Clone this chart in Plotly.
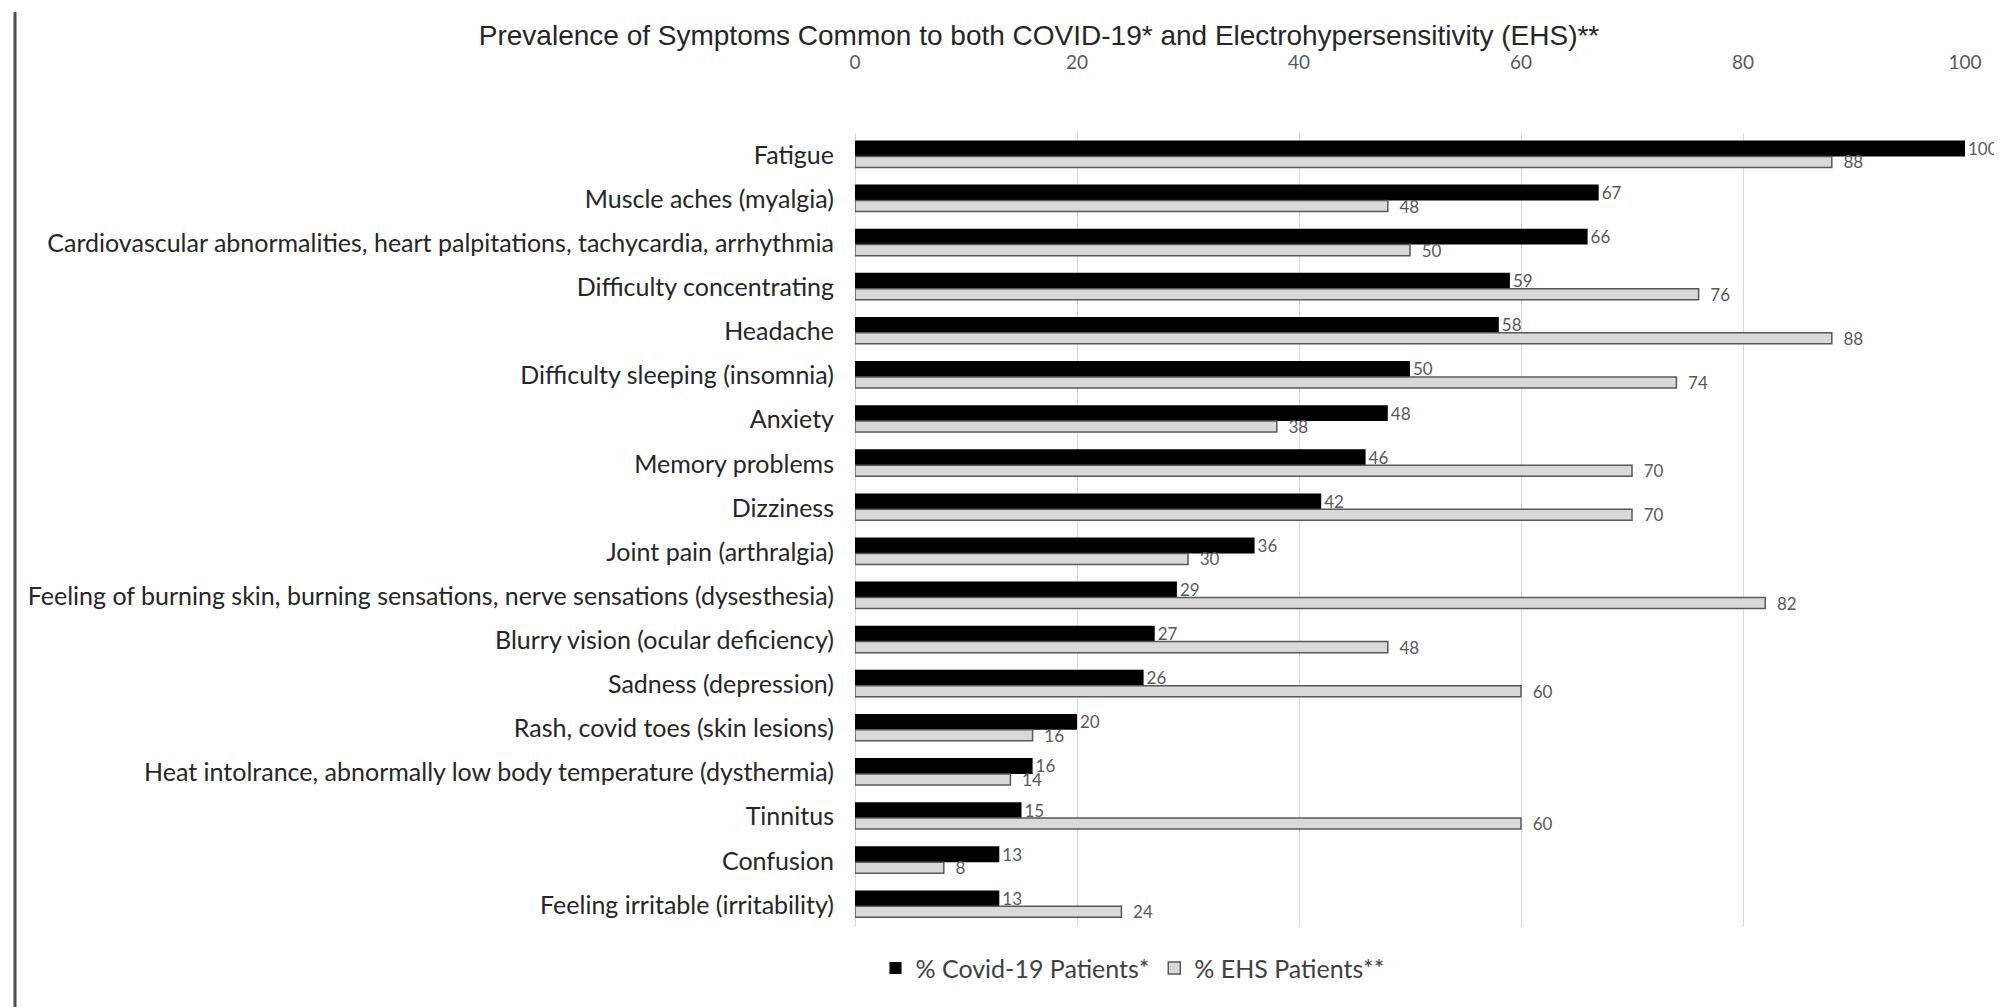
import plotly.graph_objects as go

categories = [
    "Fatigue",
    "Muscle aches (myalgia)",
    "Cardiovascular abnormalities, heart palpitations, tachycardia, arrhythmia",
    "Difficulty concentrating",
    "Headache",
    "Difficulty sleeping (insomnia)",
    "Anxiety",
    "Memory problems",
    "Dizziness",
    "Joint pain (arthralgia)",
    "Feeling of burning skin, burning sensations, nerve sensations (dysesthesia)",
    "Blurry vision (ocular deficiency)",
    "Sadness (depression)",
    "Rash, covid toes (skin lesions)",
    "Heat intolrance, abnormally low body temperature (dysthermia)",
    "Tinnitus",
    "Confusion",
    "Feeling irritable (irritability)",
]
covid_values = [100, 67, 66, 59, 58, 50, 48, 46, 42, 36, 29, 27, 26, 20, 16, 15, 13, 13]
ehs_values = [88, 48, 50, 76, 88, 74, 38, 70, 70, 30, 82, 48, 60, 16, 14, 60, 8, 24]
x_ticks = [0, 20, 40, 60, 80, 100]

title_text = "Prevalence of Symptoms Common to both COVID-19* and Electrohypersensitivity (EHS)**"
covid_name = "% Covid-19 Patients*"
ehs_name = "% EHS Patients**"

label_font = "Lato, Carlito, Calibri, sans-serif"

# page body has an 8px margin: figure coords = screen coords - 8
L, R, T, B = 847, 45, 125, 88
PW = 2002 - L - R
PH = 1007 - T - B

fig = go.Figure()
fig.add_trace(go.Bar(
    y=categories, x=covid_values, orientation="h", name=covid_name,
    marker=dict(color="#000000", line=dict(color="#000000", width=0)),
    offset=-0.33, width=0.36,
    text=[str(v) for v in covid_values], textposition="outside",
    textfont=dict(color="#595959", size=17, family=label_font),
    constraintext="none", cliponaxis=False,
))
fig.add_trace(go.Bar(
    y=categories, x=ehs_values, orientation="h", name=ehs_name,
    marker=dict(color="#d9d9d9", line=dict(color="#595959", width=1.5)),
    offset=0.03, width=0.25,
    text=["  " + str(v) for v in ehs_values], textposition="outside",
    textfont=dict(color="#595959", size=17, family=label_font),
    constraintext="none", cliponaxis=False,
))

fig.update_layout(
    width=2002, height=1007,
    margin=dict(l=L, r=R, t=T, b=B, autoexpand=False),
    paper_bgcolor="white", plot_bgcolor="white",
    barmode="overlay",
    title=dict(text=title_text, x=0.515, xanchor="center", xref="container",
               y=1 - 27 / 1007, yanchor="middle", yref="container",
               font=dict(family="Liberation Sans, Arial, sans-serif", size=28, color="#262626")),
    xaxis=dict(side="top", range=[0, 100], tickvals=x_ticks, showgrid=True,
               gridcolor="#d9d9d9", gridwidth=1, zeroline=True, zerolinecolor="#d9d9d9",
               zerolinewidth=1, showline=False, ticks="", automargin=False,
               tickfont=dict(family=label_font, size=19, color="#595959"),
               ticklabelstandoff=59),
    yaxis=dict(autorange="reversed", showgrid=False, showline=False, ticks="",
               automargin=False,
               tickfont=dict(family=label_font, size=25, color="#262626"),
               ticklabelstandoff=20),
    legend=dict(orientation="h", x=0.25, xanchor="center", y=-0.052, yanchor="middle",
                font=dict(family=label_font, size=25, color="#404040"),
                itemwidth=30, traceorder="normal"),
    showlegend=True,
)

fig.add_shape(type="line", xref="paper", yref="paper",
              x0=(7 - L) / PW, x1=(7 - L) / PW,
              y0=1 + (T - 4) / PH, y1=-B / PH,
              line=dict(color="#4d4d4d", width=3))

fig.write_html("out.html")
